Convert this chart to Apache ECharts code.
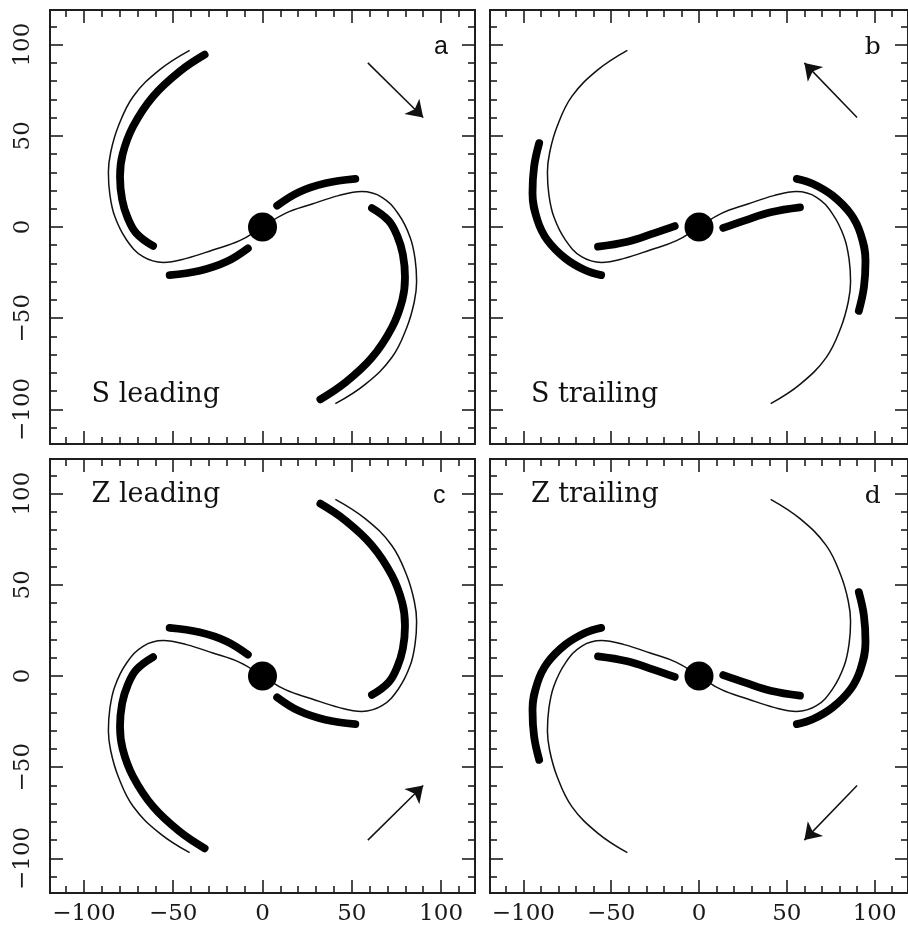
<!DOCTYPE html>
<html>
<head>
<meta charset="utf-8">
<script src="https://cdn.jsdelivr.net/npm/echarts@6/dist/echarts.min.js"></script>
<style>
  html, body { margin: 0; padding: 0; background: #fff; }
  #chart { width: 908px; height: 933px; }
</style>
</head>
<body>
<div id="chart"></div>
<script>
// ---- axis range and tick values (data units) ----
const axisExtent = [-119, 119];
const majorTicks = [-100, -50, 0, 50, 100];
const minorTicks = [-110, -90, -80, -70, -60, -40, -30, -20, -10,
                    10, 20, 30, 40, 60, 70, 80, 90, 110];

// ---- thin S-shaped arm ridge, from upper-left tip to lower-right tip ----
const armRidge = [
  [-40.8, 96.9], [-57.5, 86.3], [-72.4, 71.6], [-80.8, 55.1], [-85, 41],
  [-86.3, 30], [-85.5, 18], [-82.7, 5.7], [-76.1, -7.1], [-66.9, -16.3],
  [-55.5, -19.4], [-42.6, -17.2], [-27.8, -12.6], [-12.8, -7.5], [0, 0],
  [12.8, 7.5], [27.8, 12.6], [42.6, 17.2], [55.5, 19.4], [66.9, 16.3],
  [76.1, 7.1], [82.7, -5.7], [85.5, -18], [86.3, -30], [85, -41],
  [80.8, -55.1], [72.4, -71.6], [57.5, -86.3], [40.8, -96.9]
];

// ---- dust lanes, leading case (S shape) ----
const leadOuterWest = [[-32.4, 94.5], [-46.4, 85.3], [-61.3, 71.6], [-72.5, 55.1], [-78.3, 40],
                       [-79.8, 27.6], [-78.6, 15], [-75.5, 5], [-70.6, -3.5], [-61.3, -10.4]];
const leadInnerWest = [[-52, -26.4], [-35.2, -24], [-20.3, -19.1], [-8.2, -11.7]];
const leadInnerEast = [[8.2, 11.7], [20.3, 19.1], [35.2, 24], [52, 26.4]];
const leadOuterEast = [[61.3, 10.4], [70.6, 3.5], [75.5, -5], [78.6, -15], [79.8, -27.6],
                       [78.3, -40], [72.5, -55.1], [61.3, -71.6], [46.4, -85.3], [32.4, -94.5]];

// ---- dust lanes, trailing case (S shape) ----
const trailOuterWest = [[-91, 46], [-93.9, 33.1], [-94.8, 18.5], [-92, 3.8], [-86.4, -7.1],
                        [-76.1, -17.2], [-65, -23.6], [-55.7, -26.4]];
const trailInnerWest = [[-57.5, -10.8], [-40.8, -8.1], [-25.9, -3.5], [-13.8, 0.5]];
const trailInnerEast = [[13.8, -0.5], [25.9, 3.5], [40.8, 8.1], [57.5, 10.8]];
const trailOuterEast = [[55.7, 26.4], [65, 23.6], [76.1, 17.2], [86.4, 7.1], [92, -3.8],
                        [94.8, -18.5], [93.9, -33.1], [91, -46]];

// ---- nucleus ----
const nucleus = [[0, 0]];

// ---- rotation arrows (tail, head) per panel ----
const arrowA = [[59, 90], [90, 60]];
const arrowB = [[90, 60], [60, 90]];
const arrowC = [[59, -90], [90, -60]];
const arrowD = [[90, -60], [60, -90]];

// ---- panel annotations ----
const panelLetters = ['a', 'b', 'c', 'd'];
const letterAnchors = [[100, 98.5], [99, 98.5], [99, 98.5], [99, 98.5]];
const panelTitles = ['S leading', 'S trailing', 'Z leading', 'Z trailing'];
const titleAnchors = [[-96, -92], [-96, -92], [-96, 99.5], [-96, 99.5]];

// ---------------------------------------------------------------
const ink = '#000000';
const frameInk = '#1e1e1e';
const serif = '"DejaVu Serif", "Liberation Serif", serif';
const sans = '"Liberation Sans", Arial, sans-serif';

const grids = [
  { left: 50,  top: 10,  width: 425, height: 434 },
  { left: 490, top: 10,  width: 425, height: 434 },
  { left: 50,  top: 459, width: 425, height: 434 },
  { left: 490, top: 459, width: 425, height: 434 }
];

const minusFmt = v => String(v).replace('-', '\u2212');

function makeAxis(dim, gridIndex, position, ticks, len, showLabels) {
  const ax = {
    type: 'value',
    gridIndex,
    position,
    min: axisExtent[0],
    max: axisExtent[1],
    axisLine: { show: true, onZero: false, lineStyle: { color: frameInk, width: 2 } },
    axisTick: { show: true, inside: true, length: len, customValues: ticks,
                lineStyle: { color: frameInk, width: 1.6 } },
    axisLabel: { show: showLabels, customValues: majorTicks, formatter: minusFmt,
                 fontFamily: serif, fontSize: 23, color: '#1a1a1a', margin: 10 },
    splitLine: { show: false }
  };
  if (dim === 'y') {
    ax.axisLabel.rotate = 90;
    ax.axisLabel.margin = 15;
  }
  return ax;
}

const xAxes = [];
const yAxes = [];
grids.forEach((g, i) => {
  const bottomRow = i >= 2;
  const leftCol = i % 2 === 0;
  xAxes.push(makeAxis('x', i, 'bottom', majorTicks, 13, bottomRow));
  xAxes.push(makeAxis('x', i, 'bottom', minorTicks, 7, false));
  xAxes.push(makeAxis('x', i, 'top', majorTicks, 13, false));
  xAxes.push(makeAxis('x', i, 'top', minorTicks, 7, false));
  yAxes.push(makeAxis('y', i, 'left', majorTicks, 13, leftCol));
  yAxes.push(makeAxis('y', i, 'left', minorTicks, 7, false));
  yAxes.push(makeAxis('y', i, 'right', majorTicks, 13, false));
  yAxes.push(makeAxis('y', i, 'right', minorTicks, 7, false));
});

// Z panels are the S shapes reflected about the x axis
const flipY = pts => pts.map(([x, y]) => [x, -y]);

const leadLanes = [leadOuterWest, leadInnerWest, leadInnerEast, leadOuterEast];
const trailLanes = [trailOuterWest, trailInnerWest, trailInnerEast, trailOuterEast];
const arrows = [arrowA, arrowB, arrowC, arrowD];

const series = [];
grids.forEach((g, i) => {
  const axisRef = { xAxisIndex: i * 4, yAxisIndex: i * 4 };
  const mirror = i >= 2;
  const lanes = (i % 2 === 0) ? leadLanes : trailLanes;
  const tf = mirror ? flipY : (p => p);

  series.push(Object.assign({
    type: 'line', name: 'ridge', data: tf(armRidge), showSymbol: false, smooth: 0.4,
    lineStyle: { color: '#111', width: 1.5 }, silent: true, z: 2
  }, axisRef));

  lanes.forEach(lane => {
    series.push(Object.assign({
      type: 'line', name: 'lane', data: tf(lane), showSymbol: false, smooth: 0.4,
      lineStyle: { color: ink, width: 7.8, cap: 'round', join: 'round' }, silent: true, z: 3
    }, axisRef));
  });

  series.push(Object.assign({
    type: 'scatter', name: 'nucleus', data: nucleus, symbol: 'circle', symbolSize: 29,
    itemStyle: { color: ink, opacity: 1 }, silent: true, z: 4
  }, axisRef));

  series.push(Object.assign({
    type: 'lines', coordinateSystem: 'cartesian2d', name: 'rotation',
    data: [{ coords: arrows[i] }], symbol: ['none', 'arrow'], symbolSize: [0, 16],
    lineStyle: { color: '#111', width: 1.5, curveness: 0, opacity: 1 }, silent: true, z: 4
  }, axisRef));

  series.push(Object.assign({
    type: 'scatter', name: 'title', data: [titleAnchors[i]], symbolSize: 1,
    itemStyle: { color: 'rgba(255,255,255,0)', opacity: 1 }, silent: true, z: 5,
    label: { show: true, position: 'right', distance: 0, formatter: panelTitles[i],
             fontFamily: serif, fontSize: 27, color: '#111', opacity: 1 }
  }, axisRef));

  series.push(Object.assign({
    type: 'scatter', name: 'letter', data: [letterAnchors[i]], symbolSize: 1,
    itemStyle: { color: 'rgba(255,255,255,0)', opacity: 1 }, silent: true, z: 5,
    label: { show: true, position: 'inside', formatter: panelLetters[i],
             fontFamily: (i % 2 === 0) ? sans : serif, fontSize: 25, color: '#111', opacity: 1 }
  }, axisRef));
});

const chart = echarts.init(document.getElementById('chart'), null, { renderer: 'canvas' });
chart.setOption({
  animation: false,
  backgroundColor: '#ffffff',
  grid: grids,
  xAxis: xAxes,
  yAxis: yAxes,
  series
});
</script>
</body>
</html>
